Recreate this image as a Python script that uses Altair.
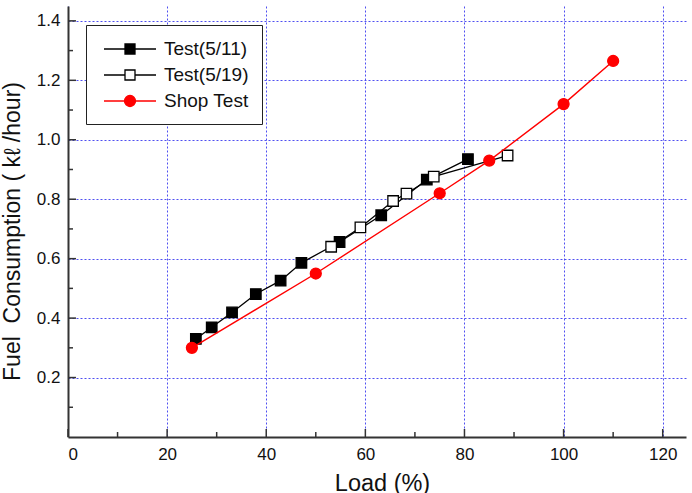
import altair as alt
import pandas as pd

# Measured fuel consumption vs. engine load
load_0511 = [25.8, 29.0, 33.1, 37.9, 42.9, 47.1, 54.8, 63.2, 72.4, 80.7]
fuel_0511 = [0.330, 0.369, 0.419, 0.481, 0.526, 0.586, 0.656, 0.746, 0.866, 0.935]

load_0519 = [53.1, 59.0, 65.6, 68.3, 73.8, 88.7]
fuel_0519 = [0.640, 0.705, 0.794, 0.819, 0.876, 0.947]

load_shop = [25, 50, 75, 85, 100, 110]
fuel_shop = [0.30, 0.55, 0.82, 0.93, 1.12, 1.265]

series_names = ["Test(5/11)", "Test(5/19)", "Shop Test"]
fill_colors = ["#000000", "#ffffff", "#ff0000"]
stroke_colors = ["#000000", "#000000", "#ff0000"]

x_major = [0, 20, 40, 60, 80, 100, 120]
x_minor = [10, 30, 50, 70, 90, 110]
y_major = [0.2, 0.4, 0.6, 0.8, 1.0, 1.2, 1.4]
y_minor = [0.1, 0.3, 0.5, 0.7, 0.9, 1.1, 1.3]

W, H = 618, 431
FONT = "Liberation Sans"

df = pd.concat([
    pd.DataFrame({"load": load_0511, "fuel": fuel_0511, "series": series_names[0]}),
    pd.DataFrame({"load": load_0519, "fuel": fuel_0519, "series": series_names[1]}),
    pd.DataFrame({"load": load_shop, "fuel": fuel_shop, "series": series_names[2]}),
], ignore_index=True)

x_scale = alt.Scale(domain=[0, 124.7], nice=False, zero=False)
y_scale = alt.Scale(domain=[0, 1.45], nice=False, zero=False)

fill_scale = alt.Scale(domain=series_names, range=fill_colors)
stroke_scale = alt.Scale(domain=series_names, range=stroke_colors)

# legend glyphs: a line segment with the series marker in its middle
# (path units are half the symbol width; the glyph runs past it to the right)
sq_path = "M-0.6,0H1.5M2.5,0H4.6M1.5,-0.5H2.5V0.5H1.5Z"
dot_path = "M-0.6,0H1.45M2.55,0H4.6M2.55,0A0.55,0.55 0 1,1 1.45,0A0.55,0.55 0 1,1 2.55,0Z"
shape_scale = alt.Scale(domain=series_names, range=[sq_path, sq_path, dot_path])

legend_def = alt.Legend(
    title=None, orient="none", legendX=18, legendY=19,
    symbolSize=400, symbolStrokeWidth=1.3, labelFont=FONT, labelFontSize=19,
    labelColor="#111111", labelOffset=43, rowPadding=5, padding=13,
    strokeColor="#222222", fillColor="#ffffff", symbolOpacity=1,
)

x_axis = alt.Axis(
    values=x_major, format="d", tickSize=0, domainColor="#333333", domainWidth=2,
    gridColor="#3c3cf0", gridDash=[2, 2], gridWidth=1, gridOpacity=0.9,
    labelFont=FONT, labelFontSize=17, labelColor="#111111", labelPadding=9,
    title="Load (%)", titleFont=FONT, titleFontSize=23.5, titleFontWeight="normal",
    titleColor="#111111", titleX=314, titleY=53, titleBaseline="alphabetic",
)
y_axis = alt.Axis(
    values=y_major, format=".1f", tickSize=0, domainColor="#333333", domainWidth=2,
    gridColor="#3c3cf0", gridDash=[2, 2], gridWidth=1, gridOpacity=0.9,
    labelFont=FONT, labelFontSize=17, labelColor="#111111", labelPadding=8,
    title="Fuel\u00a0 Consumption (\u00a0kℓ\u00a0/hour)", titleFont=FONT, titleFontSize=23,
    titleFontWeight="normal", titleColor="#111111",
    titleX=-56, titleY=225, titleAngle=-90, titleAlign="center", titleBaseline="middle",
)

base = alt.Chart(df)

grid = base.mark_point(opacity=0).encode(
    x=alt.X("load:Q", scale=x_scale, axis=x_axis),
    y=alt.Y("fuel:Q", scale=y_scale, axis=y_axis),
)

def series_layer(name, shape, size):
    sub = base.transform_filter(alt.datum.series == name)
    line = sub.mark_line(strokeWidth=1.3 if name != "Shop Test" else 1.4).encode(
        x="load:Q", y="fuel:Q",
        stroke=alt.Stroke("series:N", scale=stroke_scale, legend=legend_def),
    )
    pts = sub.mark_point(shape=shape, size=size, filled=True, strokeWidth=1.3, opacity=1).encode(
        x="load:Q", y="fuel:Q",
        fill=alt.Fill("series:N", scale=fill_scale, legend=legend_def),
        stroke=alt.Stroke("series:N", scale=stroke_scale, legend=legend_def),
    )
    return line + pts

s1 = series_layer("Test(5/11)", "square", 110)
s2 = series_layer("Test(5/19)", "square", 110)
s3 = series_layer("Shop Test", "circle", 120)

legend_layer = base.transform_filter("false").mark_point(filled=True, opacity=1).encode(
    x="load:Q", y="fuel:Q",
    shape=alt.Shape("series:N", scale=shape_scale, legend=legend_def),
    fill=alt.Fill("series:N", scale=fill_scale, legend=legend_def),
    stroke=alt.Stroke("series:N", scale=stroke_scale, legend=legend_def),
)

x_ticks_major = alt.Chart(pd.DataFrame({"v": x_major})).mark_rule(color="#333333", strokeWidth=1.5).encode(
    x=alt.X("v:Q", scale=x_scale), y=alt.value(H), y2=alt.value(H - 8))
x_ticks_minor = alt.Chart(pd.DataFrame({"v": x_minor})).mark_rule(color="#333333", strokeWidth=1.5).encode(
    x=alt.X("v:Q", scale=x_scale), y=alt.value(H), y2=alt.value(H - 5))
y_ticks_major = alt.Chart(pd.DataFrame({"v": y_major})).mark_rule(color="#333333", strokeWidth=1.5).encode(
    y=alt.Y("v:Q", scale=y_scale), x=alt.value(0), x2=alt.value(8))
y_ticks_minor = alt.Chart(pd.DataFrame({"v": y_minor})).mark_rule(color="#333333", strokeWidth=1.5).encode(
    y=alt.Y("v:Q", scale=y_scale), x=alt.value(0), x2=alt.value(5))

chart = alt.layer(
    grid, x_ticks_major, x_ticks_minor, y_ticks_major, y_ticks_minor,
    s1, s2, s3, legend_layer,
).properties(
    width=W, height=H,
    autosize=alt.AutoSizeParams(type="none"),
    padding={"left": 68, "top": 6, "right": 6, "bottom": 56},
    background="#ffffff",
).configure_view(stroke=None)

chart.save("out.html", embed_options={"renderer": "svg", "actions": False})
